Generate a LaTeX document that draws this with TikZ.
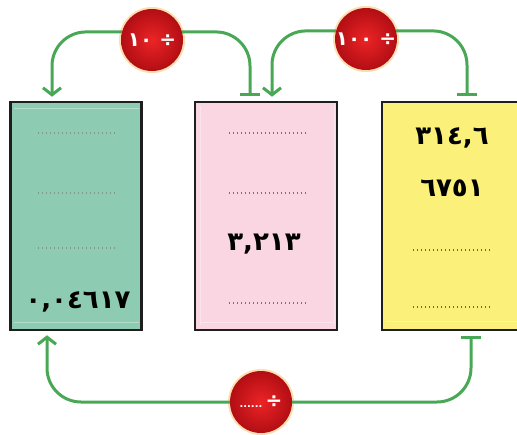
\documentclass[tikz,border=0pt]{standalone}
\usepackage{fontspec}
\TeXXeTstate=1
\newfontfamily\arabicfont[Script=Arabic]{DejaVu Sans}
\usetikzlibrary{arrows.meta}
\definecolor{boxgreen}{RGB}{141,204,178}
\definecolor{boxpink}{RGB}{250,214,226}
\definecolor{boxyellow}{RGB}{250,240,122}
\definecolor{conngreen}{RGB}{72,168,86}
\definecolor{ballin}{RGB}{236,36,38}
\definecolor{ballout}{RGB}{178,14,20}
\definecolor{glow}{RGB}{250,196,110}
\definecolor{edge}{RGB}{30,30,30}
\tikzset{
  box/.style={draw=edge, line width=2.6pt, minimum height=228pt, inner sep=0pt},
  inner/.style={draw=white, opacity=0.35, line width=0.8pt},
  num/.style={font=\arabicfont\bfseries\fontsize{26}{28}\selectfont, text=black, inner sep=0pt},
  dotline/.style={line width=1.2pt, dash pattern=on 1.2pt off 2.8pt},
  ball/.style={circle, minimum size=62pt, inner sep=0pt, inner color=ballin, outer color=ballout,
    preaction={draw=glow, line width=4pt, opacity=0.55},
    text=white, font=\arabicfont\bfseries\fontsize{20}{22}\selectfont},
  conn/.style={draw=conngreen, line width=3pt, rounded corners=34pt},
  tip/.style={-{Straight Barb[length=7pt,width=18pt,line width=3pt]}, shorten >=4pt},
  bar/.style={-{Bar[width=20pt,line width=3pt]}, shorten >=5pt},
}
\begin{document}
\begin{tikzpicture}[x=1pt,y=-1pt]
\useasboundingbox (0,0) rectangle (517,434);
\fill[white] (0,0) rectangle (517,434);
% boxes
\node[box, fill=boxgreen, minimum width=131pt] (L) at (76,216) {};
\node[box, fill=boxpink, minimum width=142pt] (M) at (266,216) {};
\node[box, fill=boxyellow, minimum width=142pt] (R) at (453,216) {};
% faint inner frames
\draw[inner] (14,108) -- (139,108) (14,322) -- (139,322);
\draw[inner] (200,106) -- (200,325) (334,106) -- (334,325) (200,322) -- (334,322);
\draw[inner] (386,321) -- (517,321);
% left box contents
\draw[dotline, draw=gray!70!boxgreen] (38,133) -- (115,133);
\draw[dotline, draw=gray!70!boxgreen] (38,193) -- (115,193);
\draw[dotline, draw=gray!70!boxgreen] (38,248) -- (115,248);
\node[num] (l4) at (78,302) {٠,٠٤٦١٧};
% middle box contents
\draw[dotline, draw=gray!90!black] (229,133) -- (306,133);
\draw[dotline, draw=gray!90!black] (229,193) -- (306,193);
\node[num] (m3) at (264,244) {٣,٢١٣};
\draw[dotline, draw=gray!90!black] (229,303) -- (306,303);
% right box contents
\node[num] (r1) at (452,138) {٣١٤,٦};
\node[num] (r2) at (452,188) {٦٧٥١};
\draw[dotline, draw=gray!80!black] (413,250) -- (490,250);
\draw[dotline, draw=gray!80!black] (413,307) -- (490,307);
% operation balls
\node[ball] (c1) at (152,40) {\beginR ÷ ١٠\endR};
\node[ball] (c2) at (366,39) {\beginR ÷ ١٠٠\endR};
\node[ball] (c3) at (261,402) {\beginR ÷\,{\fontsize{10}{11}\selectfont ......}\endR};
% connectors
\draw[conn, tip] (c1.165) -| ([xshift=-24pt]L.north);
\draw[conn, bar] (c1.15) -| ([xshift=-16pt]M.north);
\draw[conn, tip] (c2.165) -| ([xshift=6pt]M.north);
\draw[conn, bar] (c2.15) -| ([xshift=14pt]R.north);
\draw[conn, tip] (c3.west) -| ([xshift=-29pt]L.south);
\draw[conn, bar] (c3.east) -| ([xshift=18pt]R.south);
\end{tikzpicture}
\end{document}
